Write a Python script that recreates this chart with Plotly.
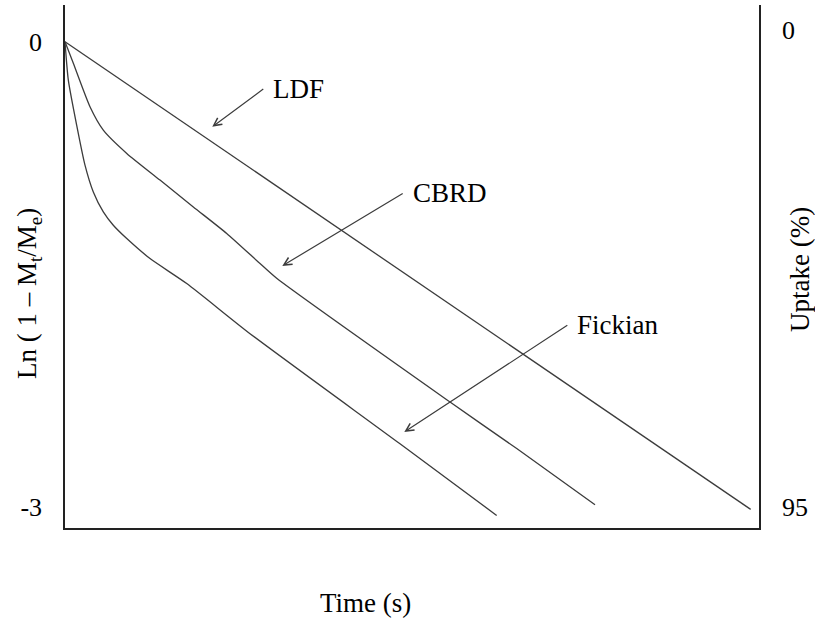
import plotly.graph_objects as go

# ---- data (arbitrary time units; ln(1 - Mt/Me)) ----
ldf_t = [0.0, 98.8]
ldf_y = [0.0, -3.015]

cbrd_t = [0.0, 1.20, 3.60, 5.52, 8.90, 13.69, 18.49, 23.30, 28.10, 30.50, 55.48, 65.09, 76.37]
cbrd_y = [0.0, -0.139, -0.419, -0.570, -0.720, -0.892, -1.065, -1.236, -1.430, -1.525, -2.323, -2.623, -2.985]

fick_t = [0.0, 0.48, 1.68, 2.88, 4.08, 5.52, 6.96, 8.90, 12.25, 17.54, 26.66, 48.27, 62.20]
fick_y = [0.0, -0.247, -0.537, -0.795, -0.968, -1.097, -1.183, -1.269, -1.398, -1.559, -1.882, -2.592, -3.054]

left_ticks = [0, -3]
left_ticktext = ["0", "-3"]
right_ticks = [0, 95]
right_ticktext = ["0", "95"]

# label annotations: (text, arrow tip x, tip y, arrow tail x, tail y)
labels = [
    ("LDF", 21.22, -0.548, 28.57, -0.305),
    ("CBRD", 31.31, -1.445, 48.66, -0.978),
    ("Fickian", 48.89, -2.516, 72.38, -1.828),
]

FONT = "Liberation Serif, Times New Roman, serif"
LINE_C = "#3c3c3c"

W, H = 815, 618
ml, mr, mt, mb = 65, 56, 5, 90
pw, ph = W - ml - mr, H - mt - mb

fig = go.Figure()
for t, y in [(ldf_t, ldf_y), (cbrd_t, cbrd_y), (fick_t, fick_y)]:
    fig.add_trace(go.Scatter(x=t, y=y, mode="lines",
                             line=dict(color=LINE_C, width=1.3, shape="spline", smoothing=0.6),
                             showlegend=False, hoverinfo="skip"))
# invisible trace to anchor the right (uptake) axis
fig.add_trace(go.Scatter(x=[0], y=[0], yaxis="y2", mode="markers",
                         marker=dict(opacity=0), showlegend=False, hoverinfo="skip"))

for text, tx, ty, ax, ay in labels:
    fig.add_annotation(x=tx, y=ty, ax=ax, ay=ay, xref="x", yref="y", axref="x", ayref="y",
                       showarrow=True, arrowhead=5, arrowsize=1.3, arrowwidth=1.2,
                       arrowcolor=LINE_C, text=text, xanchor="left", yanchor="middle",
                       borderpad=9, font=dict(family=FONT, size=27, color="black"))


def px_to_paper(xp, yp):
    return (xp - ml) / pw, (H - mb - yp) / ph


for text, xp, yp, ang in [("Time (s)", 365, 603, 0),
                          ("Ln ( 1 – M<sub>t</sub>/M<sub>e</sub>)", 29, 294, -90),
                          ("Uptake (%)", 800, 270, -90)]:
    px_, py_ = px_to_paper(xp, yp)
    fig.add_annotation(x=px_, y=py_, xref="paper", yref="paper", text=text, showarrow=False,
                       xanchor="center", yanchor="middle", textangle=ang,
                       font=dict(family=FONT, size=27, color="black"))

fig.update_layout(
    width=W, height=H,
    margin=dict(l=ml, r=mr, t=mt, b=mb),
    plot_bgcolor="white", paper_bgcolor="white",
    font=dict(family=FONT, size=26, color="black"),
    xaxis=dict(range=[0, 100], showgrid=False, zeroline=False, showticklabels=False,
               showline=True, linecolor="#222", linewidth=1.5, ticks=""),
    yaxis=dict(range=[-3.135, 0.237], showgrid=False, zeroline=False,
               tickvals=left_ticks, ticktext=left_ticktext, ticks="",
               ticklabelstandoff=16, showline=True, linecolor="#222", linewidth=1.5,
               tickfont=dict(family=FONT, size=26, color="black")),
    yaxis2=dict(range=[99.12, -4.98], overlaying="y", side="right", showgrid=False,
                zeroline=False, tickvals=right_ticks, ticktext=right_ticktext, ticks="",
                ticklabelstandoff=16, showline=True, linecolor="#222", linewidth=1.5,
                tickfont=dict(family=FONT, size=26, color="black")),
)

fig.write_html("out.html", config={"displayModeBar": False},
               post_script="document.body.style.margin='0';document.body.style.overflow='hidden';")
